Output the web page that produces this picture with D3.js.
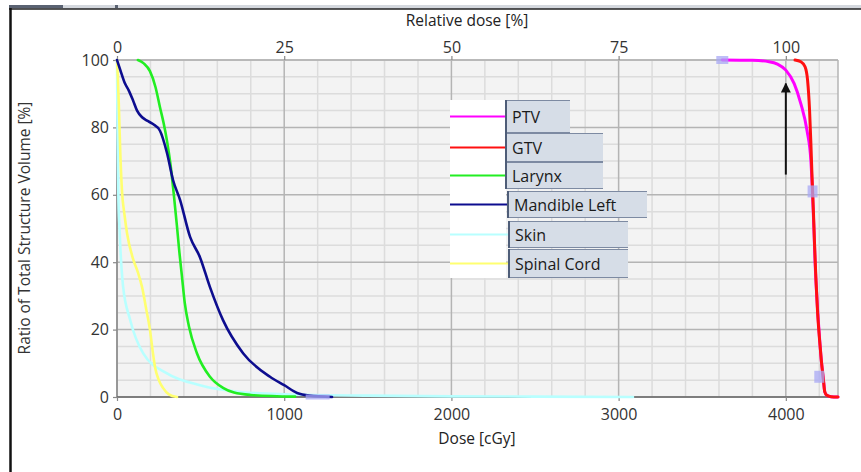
<!DOCTYPE html>
<html><head><meta charset="utf-8">
<script src="https://cdn.jsdelivr.net/npm/d3@7"></script>
<style>
html,body{margin:0;padding:0;background:#fff;}
svg{display:block;font-family:"Open Sans","Noto Sans",sans-serif;}
</style></head>
<body><svg id="c" width="861" height="472"></svg>
<script>
// ---- data ----
const structures = ["PTV","GTV","Larynx","Mandible Left","Skin","Spinal Cord"];
const colors = ["#ff00ff","#ff1010","#22ee22","#0d0d8f","#b8ffff","#ffff70"];

const ptvDose   = [3620,3800,3900,3950,4000,4050,4090,4127,4150,4160,4168,4175,4185,4198,4212,4225,4233,4245,4270,4312];
const ptvVol    = [100,99.9,99.5,98.8,97,93,87,79,70,60,50,40,30,20,11,5,1.5,0.5,0.1,0];
const gtvDose   = [4055,4090,4115,4130,4142,4150,4157,4165,4172,4180,4190,4200,4212,4225,4233,4245,4270,4312];
const gtvVol    = [100,99.5,98,94,85,75,65,55,45,35,25,18,11,5,1.5,0.5,0.1,0];
const larDose   = [125,160,197,230,257,280,299,320,340,358,373,388,405,430,478,556,634,700,800,1065];
const larVol    = [100,99,96.7,92,86,81,76,69,60,51,43,36,28,21,13,6,2.7,1.3,0.6,0.1];
const manDose   = [0,20,48,70,96,120,150,180,215,257,299,335,377,437,496,556,634,754,915,1000,1077,1150,1286];
const manVol    = [100,97,93,91,88,85,83,82,81,79,72.4,64.4,58.5,47.5,41.5,32.6,22.8,13,6,3.5,1.2,0.4,0];
const skinDose  = [0,3,8,15,36,78,156,299,496,736,1000,1500,2000,2500,3086];
const skinVol   = [100,80,60,50,33,23,13,7,3.5,1.5,0.8,0.4,0.2,0.1,0];
const cordDose  = [0,5,12,20,30,45,60,96,125,150,175,197,215,227,250,275,310,359];
const cordVol   = [100,95,85,72,61,54,48.6,41,37,32.6,26,20,13,9,5,2.7,0.8,0];

const markerDose = [3620,4160,4200,1200];
const markerVol  = [100,61,6,0];

const xTicks = [0,1000,2000,3000,4000];
const relTicks = [0,25,50,75,100];
const yTicks = [0,20,40,60,80,100];
const legendLabels = structures;

// ---- layout ----
const svg = d3.select("#c");
const X0=117, X1=838, Y0=397, Y1=60;
const doseMax = 4312;
const x = d3.scaleLinear().domain([0,doseMax]).range([X0,X1]);
const xRel = d3.scaleLinear().domain([0,doseMax/40]).range([X0,X1]);
const y = d3.scaleLinear().domain([0,100]).range([Y0,Y1]);

// outer frame
svg.append("rect").attr("x",9).attr("y",5).attr("width",852).attr("height",4).attr("fill","#d4d8de");
svg.append("rect").attr("x",9).attr("y",5).attr("width",54).attr("height",3).attr("fill","#5a6272");
svg.append("rect").attr("x",115).attr("y",5).attr("width",3).attr("height",3).attr("fill","#5a6272");
svg.append("line").attr("x1",9).attr("x2",861).attr("y1",9).attr("y2",9).attr("stroke","#222").attr("stroke-width",1.5);
svg.append("line").attr("x1",10.5).attr("x2",10.5).attr("y1",8).attr("y2",472).attr("stroke","#111").attr("stroke-width",2.5);

// plot background
svg.append("rect").attr("x",X0).attr("y",Y1).attr("width",X1-X0).attr("height",Y0-Y1).attr("fill","#f3f3f3");

const g = svg.append("g");
// minor grid
d3.range(200,doseMax,200).filter(d=>d%1000!==0).forEach(d=>{
  g.append("line").attr("x1",x(d)).attr("x2",x(d)).attr("y1",Y1).attr("y2",Y0).attr("stroke","#dcdcdc").attr("stroke-width",1.5);
});
d3.range(5,100,5).filter(d=>d%20!==0).forEach(d=>{
  g.append("line").attr("x1",X0).attr("x2",X1).attr("y1",y(d)).attr("y2",y(d)).attr("stroke","#dcdcdc").attr("stroke-width",1.5);
});
// major grid
xTicks.forEach(d=>{
  g.append("line").attr("x1",x(d)).attr("x2",x(d)).attr("y1",Y1).attr("y2",Y0).attr("stroke","#b4b4b4").attr("stroke-width",1.5);
});
yTicks.forEach(d=>{
  g.append("line").attr("x1",X0).attr("x2",X1).attr("y1",y(d)).attr("y2",y(d)).attr("stroke","#b4b4b4").attr("stroke-width",1.5);
});
// border of plot
svg.append("line").attr("x1",X1).attr("x2",X1).attr("y1",Y1).attr("y2",Y0).attr("stroke","#b4b4b4").attr("stroke-width",1.5);
svg.append("line").attr("x1",X0).attr("x2",X1).attr("y1",Y1).attr("y2",Y1).attr("stroke","#b4b4b4").attr("stroke-width",1.5);
svg.append("line").attr("x1",X0).attr("x2",X0).attr("y1",Y1).attr("y2",Y0).attr("stroke","#888").attr("stroke-width",1.5);
svg.append("line").attr("x1",X0).attr("x2",X1).attr("y1",Y0).attr("y2",Y0).attr("stroke","#666").attr("stroke-width",1.5);

// axes
const fs = "16px";
const fmt = d3.format("d");
const axB = svg.append("g").attr("transform",`translate(0,${Y0})`)
  .call(d3.axisBottom(x).tickValues(xTicks).tickFormat(fmt).tickSize(4).tickPadding(8));
const axT = svg.append("g").attr("transform",`translate(0,${Y1})`)
  .call(d3.axisTop(xRel).tickValues(relTicks).tickFormat(fmt).tickSize(4).tickPadding(3));
const axL = svg.append("g").attr("transform",`translate(${X0},0)`)
  .call(d3.axisLeft(y).tickValues(yTicks).tickFormat(fmt).tickSize(4).tickPadding(4));
[axB,axT,axL].forEach(a=>{
  a.select(".domain").remove();
  a.selectAll(".tick line").attr("stroke","#888").attr("stroke-width",1.2);
  a.selectAll(".tick text").attr("fill","#333").style("font-size",fs).style("font-family",'"Open Sans","Noto Sans",sans-serif');
});

// titles
svg.append("text").attr("x",467).attr("y",26).attr("text-anchor","middle").attr("fill","#222")
  .style("font-size","15.5px").text("Relative dose [%]");
svg.append("text").attr("x",477).attr("y",444).attr("text-anchor","middle").attr("fill","#222")
  .style("font-size","15.5px").text("Dose [cGy]");
svg.append("text").attr("transform","translate(30,228) rotate(-90)").attr("text-anchor","middle").attr("fill","#333")
  .style("font-size","15.5px").text("Ratio of Total Structure Volume [%]");

// curves
const series = [
  {d:ptvDose,v:ptvVol},{d:gtvDose,v:gtvVol},{d:larDose,v:larVol},
  {d:manDose,v:manVol},{d:skinDose,v:skinVol},{d:cordDose,v:cordVol}
];
const line = d3.line().x(p=>x(p[0])).y(p=>y(p[1])).curve(d3.curveMonotoneX);
const order = [4,5,2,3,0,1];
order.forEach(i=>{
  const pts = series[i].d.map((d,k)=>[d,series[i].v[k]]);
  svg.append("path").attr("d",line(pts)).attr("fill","none").attr("stroke",colors[i])
    .attr("stroke-width",i<2?3:2.6).attr("stroke-linejoin","round").attr("stroke-linecap","round");
});

// handle markers
markerDose.forEach((d,i)=>{
  const cx=x(d), cy=y(markerVol[i]);
  const horiz = (i===0||i===3);
  const w = i===3?24:(horiz?12:10), h = horiz?(i===3?5:8):12;
  svg.append("rect").attr("x",cx-w/2).attr("y",cy-h/2)
    .attr("width",w).attr("height",h)
    .attr("fill","#a8a8f4").attr("opacity",0.75);
});

// arrow annotation
svg.append("defs").append("marker").attr("id","ah").attr("viewBox","0 0 10 10").attr("refX",9).attr("refY",5)
  .attr("markerWidth",5).attr("markerHeight",5).attr("orient","auto")
  .append("path").attr("d","M0,0L10,5L0,10z").attr("fill","#111");
svg.append("line").attr("x1",x(4000)).attr("x2",x(4000)).attr("y1",y(66)).attr("y2",y(93))
  .attr("stroke","#111").attr("stroke-width",2).attr("marker-end","url(#ah)");

// legend
const legTop=[100,133,162,191,221,249], legBot=[133,162,189,218,248,278];
const legRight=[570,603,603,647,628,628], legLeft=[505,505,505,507,508,508];
svg.append("rect").attr("x",450).attr("y",100).attr("width",56).attr("height",178).attr("fill","#fff");
legendLabels.forEach((lab,i)=>{
  const top=legTop[i], bot=legBot[i], l=legLeft[i], r=legRight[i];
  const cy=(top+bot)/2;
  svg.append("line").attr("x1",450).attr("x2",l).attr("y1",cy).attr("y2",cy).attr("stroke",colors[i]).attr("stroke-width",2);
  svg.append("rect").attr("x",l).attr("y",top).attr("width",r-l).attr("height",bot-top)
    .attr("fill","#d6dde7");
  svg.append("line").attr("x1",l).attr("x2",r).attr("y1",top+0.5).attr("y2",top+0.5).attr("stroke","#7d8aa2").attr("stroke-width",1.2);
  svg.append("line").attr("x1",l).attr("x2",r).attr("y1",bot-0.5).attr("y2",bot-0.5).attr("stroke","#7d8aa2").attr("stroke-width",1.2);
  svg.append("line").attr("x1",l+1).attr("x2",l+1).attr("y1",top).attr("y2",bot).attr("stroke","#4e5d78").attr("stroke-width",2);
  svg.append("text").attr("x",l+7).attr("y",cy+6).attr("fill","#1a1a1a").style("font-size","16px").text(lab);
});
</script></body></html>
